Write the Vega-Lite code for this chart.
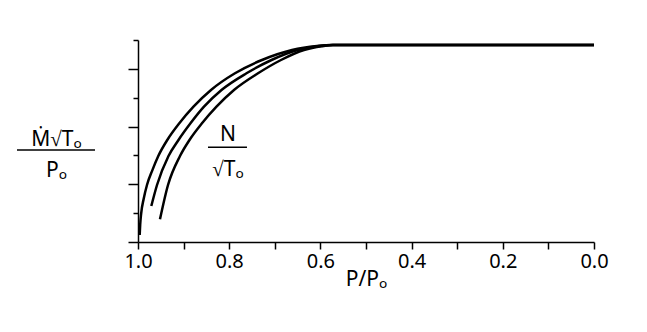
{
  "$schema": "https://vega.github.io/schema/vega-lite/v6.json",
  "width": 456,
  "height": 202,
  "autosize": {"type": "none"},
  "padding": {"left": 138, "top": 40, "right": 53, "bottom": 90},
  "background": "white",
  "config": {"view": {"stroke": null}, "font": "Noto Sans"},
  "resolve": {"axis": {"y": "independent"}},
  "layer": [
    {
      "data": {
        "values": [
          {"curve": "a", "p": 0.9963, "m": 0.243},
          {"curve": "a", "p": 0.9952, "m": 0.6},
          {"curve": "a", "p": 0.9932, "m": 0.97},
          {"curve": "a", "p": 0.9875, "m": 1.5},
          {"curve": "a", "p": 0.9803, "m": 1.975},
          {"curve": "a", "p": 0.9682, "m": 2.5},
          {"curve": "a", "p": 0.9555, "m": 2.98},
          {"curve": "a", "p": 0.9358, "m": 3.535},
          {"curve": "a", "p": 0.9094, "m": 4.113},
          {"curve": "a", "p": 0.8783, "m": 4.689},
          {"curve": "a", "p": 0.8399, "m": 5.267},
          {"curve": "a", "p": 0.7873, "m": 5.846},
          {"curve": "a", "p": 0.7281, "m": 6.307},
          {"curve": "a", "p": 0.6623, "m": 6.653},
          {"curve": "a", "p": 0.6075, "m": 6.792},
          {"curve": "a", "p": 0.5724, "m": 6.827},
          {"curve": "a", "p": 0.0, "m": 6.827},
          {"curve": "b", "p": 0.9708, "m": 1.248},
          {"curve": "b", "p": 0.9583, "m": 1.975},
          {"curve": "b", "p": 0.9331, "m": 2.98},
          {"curve": "b", "p": 0.9112, "m": 3.535},
          {"curve": "b", "p": 0.8849, "m": 4.113},
          {"curve": "b", "p": 0.8553, "m": 4.689},
          {"curve": "b", "p": 0.8169, "m": 5.267},
          {"curve": "b", "p": 0.7621, "m": 5.846},
          {"curve": "b", "p": 0.7072, "m": 6.307},
          {"curve": "b", "p": 0.6502, "m": 6.653},
          {"curve": "b", "p": 0.6031, "m": 6.792},
          {"curve": "b", "p": 0.5724, "m": 6.827},
          {"curve": "b", "p": 0.0, "m": 6.827},
          {"curve": "c", "p": 0.9518, "m": 0.787},
          {"curve": "c", "p": 0.9342, "m": 1.975},
          {"curve": "c", "p": 0.9079, "m": 2.98},
          {"curve": "c", "p": 0.8871, "m": 3.535},
          {"curve": "c", "p": 0.8597, "m": 4.113},
          {"curve": "c", "p": 0.8279, "m": 4.689},
          {"curve": "c", "p": 0.7895, "m": 5.267},
          {"curve": "c", "p": 0.7368, "m": 5.846},
          {"curve": "c", "p": 0.6864, "m": 6.307},
          {"curve": "c", "p": 0.636, "m": 6.653},
          {"curve": "c", "p": 0.5965, "m": 6.785},
          {"curve": "c", "p": 0.5724, "m": 6.827},
          {"curve": "c", "p": 0.0, "m": 6.827}
        ]
      },
      "mark": {"type": "line", "color": "black", "strokeWidth": 2.5, "interpolate": "monotone"},
      "encoding": {
        "x": {
          "field": "p",
          "type": "quantitative",
          "scale": {"domain": [0, 1], "reverse": true, "nice": false, "zero": false},
          "axis": {
            "values": [0, 0.1, 0.2, 0.3, 0.4, 0.5, 0.6, 0.7, 0.8, 0.9, 1.0],
            "labelExpr": "round(datum.value*10)%2==0 ? format(datum.value,'.1f') : ''",
            "labelOverlap": false,
            "labelFlush": false,
            "labelFontSize": 20,
            "labelColor": "black",
            "labelPadding": 2,
            "tickSize": 7,
            "tickWidth": 1.5,
            "tickColor": "black",
            "domainColor": "black",
            "domainWidth": 1.5,
            "grid": false,
            "title": "P/Pₒ",
            "titleFontSize": 21,
            "titleFontWeight": "normal",
            "titleColor": "black",
            "titlePadding": -3
          }
        },
        "y": {
          "field": "m",
          "type": "quantitative",
          "scale": {"domain": [0, 7], "nice": false, "zero": false},
          "axis": {
            "orient": "left",
            "values": [0, 2, 4, 6],
            "labels": false,
            "tickSize": 10,
            "tickWidth": 1.5,
            "tickColor": "black",
            "domainColor": "black",
            "domainWidth": 1.5,
            "grid": false,
            "title": ["Ṁ√Tₒ", "Pₒ"],
            "titleAngle": 0,
            "titleAlign": "center",
            "titleBaseline": "middle",
            "titleFontSize": 21,
            "titleFontWeight": "normal",
            "titleColor": "black",
            "titleLineHeight": 31,
            "titleX": -82,
            "titleY": 99
          }
        },
        "detail": {"field": "curve", "type": "nominal"},
        "order": {"field": "p", "type": "quantitative", "sort": "descending"}
      }
    },
    {
      "data": {"values": [{"p": 0.8026, "m": 3.708, "label": "N\n√Tₒ"}]},
      "mark": {"type": "text", "fontSize": 21, "lineHeight": 35, "lineBreak": "\n", "align": "center", "baseline": "middle", "color": "black"},
      "encoding": {
        "x": {"field": "p", "type": "quantitative"},
        "y": {
          "field": "m",
          "type": "quantitative",
          "axis": {
            "orient": "left",
            "values": [1, 3, 5, 7],
            "labels": false,
            "domain": false,
            "tickSize": 5,
            "tickWidth": 1.5,
            "tickColor": "black",
            "grid": false,
            "title": null
          }
        },
        "text": {"field": "label", "type": "nominal"}
      }
    },
    {
      "data": {
        "values": [
          {"p": 1.2654, "p2": 1.0943, "m": 3.188},
          {"p": 0.8465, "p2": 0.761, "m": 3.282}
        ]
      },
      "mark": {"type": "rule", "color": "black", "strokeWidth": 1.5},
      "encoding": {
        "x": {"field": "p", "type": "quantitative"},
        "x2": {"field": "p2"},
        "y": {"field": "m", "type": "quantitative", "axis": null}
      }
    }
  ]
}
